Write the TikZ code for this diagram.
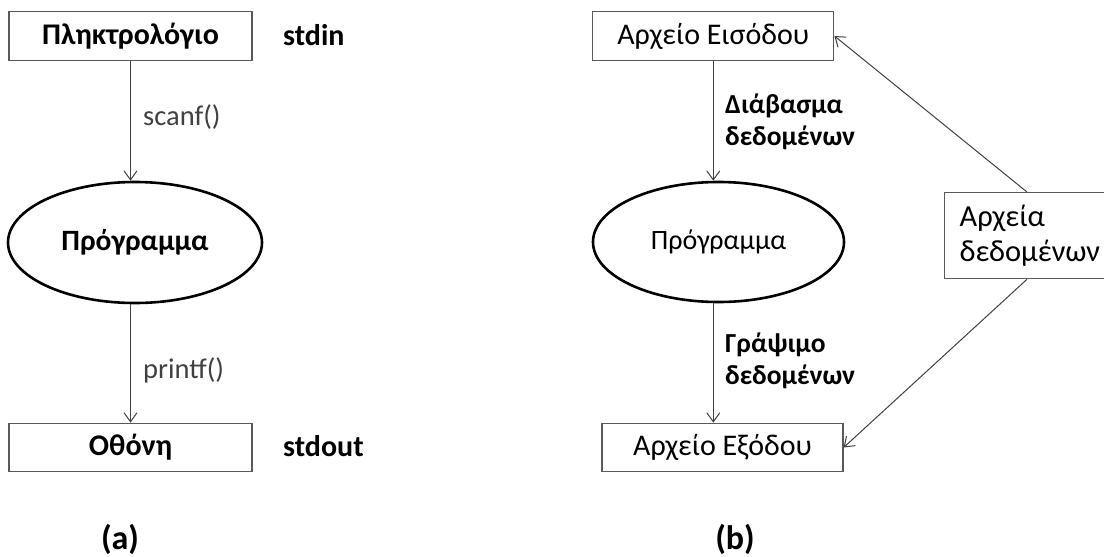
\documentclass[tikz,border=0pt]{standalone}
\usepackage{fontspec}
\setmainfont{Carlito}
\usetikzlibrary{arrows.meta,shapes.geometric}
\definecolor{boxgray}{HTML}{595959}
\definecolor{linegray}{HTML}{404040}
\tikzset{
  bx/.style={draw=boxgray, line width=1.3pt, inner sep=0pt, minimum height=48.5pt, minimum width=241pt, font=\fontsize{30}{36}\selectfont},
  bxb/.style={bx, minimum width=243pt, font=\fontsize{30}{36}\selectfont\bfseries},
  ov/.style={ellipse, draw=black, line width=2.6pt, inner sep=0pt},
  side/.style={font=\fontsize{30}{36}\selectfont\bfseries, inner sep=0pt, anchor=base west},
  lab/.style={font=\fontsize{27.5}{32}\selectfont\bfseries, inner sep=0pt, anchor=west, align=left},
  fnl/.style={font=\fontsize{28.5}{34}\selectfont, text=linegray, inner sep=0pt, anchor=base west},
  subcap/.style={font=\fontsize{34}{40}\selectfont\bfseries, inner sep=0pt, anchor=base},
  arr/.style={draw=linegray, line width=1pt, -{Straight Barb[length=9pt,width=13pt,line width=1pt]}},
}
\begin{document}
\begin{tikzpicture}[x=1pt,y=-1pt]
\useasboundingbox[fill=white] (0,0) rectangle (1104,557);
% (a)
\node[bxb] (kb) at (130.5,36) {Πληκτρολόγιο};
\node[side] (stdin) at (283,45) {stdin};
\node[ov, minimum width=254pt, minimum height=121pt, font=\fontsize{29.5}{35}\selectfont\bfseries] (p1) at (135,242.5) {Πρόγραμμα};
\node[bxb] (scr) at (130.5,447.5) {Οθόνη};
\node[side] (stdout) at (283,456.5) {stdout};
\node[fnl] (scanf) at (143,125) {scanf()};
\node[fnl] (printf) at (143,378) {printf()};
\node[subcap] (a) at (120,549) {(a)};
\draw[arr] (kb.south) -- (kb.south |- p1.north);
\draw[arr] (kb.south |- p1.south) -- (scr.north);
% (b)
\node[bx] (in) at (713.3,36) {Αρχείο Εισόδου};
\node[ov, minimum width=251pt, minimum height=120pt, font=\fontsize{28}{34}\selectfont] (p2) at (718.5,242) {Πρόγραμμα};
\node[bx] (out) at (722.5,447.5) {Αρχείο Εξόδου};
\node[lab] (rd) at (725,121.4) {Διάβασμα\\δεδομένων};
\node[lab] (wr) at (725,360.4) {Γράψιμο\\δεδομένων};
\node[draw=boxgray, line width=1.3pt, anchor=north west, minimum width=180pt, minimum height=86pt, inner xsep=12.7pt, inner ysep=0pt, align=left, text width=150pt, font=\fontsize{30.5}{35}\selectfont] (data) at (944,192) {Αρχεία\\δεδομένων};
\node[subcap] (b) at (735,549) {(b)};
\draw[arr] (in.south) -- (in.south |- p2.north);
\draw[arr] (in.south |- p2.south) -- (in.south |- out.north);
\draw[arr] ([xshift=83pt]data.north west) -- (in.east);
\draw[arr] ([xshift=83pt]data.south west) -- (out.east);
\end{tikzpicture}
\end{document}
